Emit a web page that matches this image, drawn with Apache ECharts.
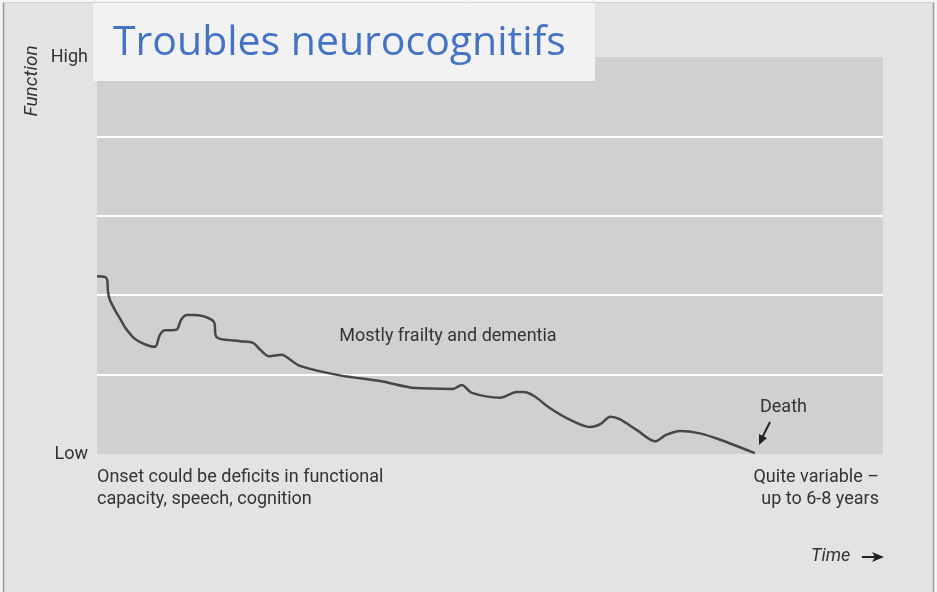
<!DOCTYPE html>
<html><head><meta charset="utf-8">
<script src="https://cdn.jsdelivr.net/npm/echarts@6/dist/echarts.min.js"></script>
<style>html,body{margin:0;padding:0;background:#f4f4f4;}#c{width:937px;height:592px;}</style>
</head><body><div id="c"></div>
<script>
// Time (0..100 of x span) and function level (0 = Low, 5 = High)
const timePts = [0, 1.0, 1.3, 1.4, 1.65, 2.3, 2.9, 3.6, 4.6, 5.5, 6.7, 7.4, 8.0, 8.65, 9.5, 10.2, 10.7, 11.45, 12.5, 13.7, 14.9, 15.1, 15.65, 18.2, 19.85, 20.7, 21.9, 23.5, 24.55, 25.8, 30.9, 36.0, 40.5, 45.3, 46.4, 47.7, 51.3, 53.4, 54.3, 55.6, 57.6, 60.2, 62.7, 64.1, 65.3, 66.5, 68.7, 71.0, 72.4, 74.2, 76.7, 79.3, 83.7];
const functionPts = [2.24, 2.23, 2.19, 2.04, 1.94, 1.81, 1.71, 1.59, 1.47, 1.41, 1.36, 1.35, 1.50, 1.56, 1.56, 1.57, 1.69, 1.75, 1.75, 1.73, 1.66, 1.49, 1.45, 1.42, 1.40, 1.32, 1.23, 1.25, 1.19, 1.11, 0.99, 0.92, 0.83, 0.82, 0.87, 0.77, 0.71, 0.78, 0.78, 0.73, 0.58, 0.43, 0.34, 0.38, 0.47, 0.44, 0.30, 0.16, 0.24, 0.29, 0.26, 0.18, 0.01];
const yTickLabels = {0: 'Low', 5: 'High'};
const titleText = 'Troubles neurocognitifs';
const regionLabel = 'Mostly frailty and dementia';
const onsetLines = ['Onset could be deficits in functional', 'capacity, speech, cognition'];
const endLines = ['Quite variable –', 'up to 6-8 years'];
const deathLabel = 'Death';
const xName = 'Time';
const yName = 'Function';

const FONT = "Roboto, 'Liberation Sans', Arial, sans-serif";
const TXT = '#333';

const chart = echarts.init(document.getElementById('c'));
chart.setOption({
  backgroundColor: '#e3e3e3',
  animation: false,
  grid: {left: 97, right: 54, top: 57, bottom: 138, show: true, backgroundColor: '#d0d0d0', borderWidth: 0},
  xAxis: {type: 'value', min: 0, max: 100, show: false},
  yAxis: {
    type: 'value', min: 0, max: 5, interval: 1,
    axisLine: {show: false}, axisTick: {show: false},
    axisLabel: {formatter: v => yTickLabels[v] || '', color: TXT, fontSize: 18, fontFamily: FONT, margin: 9},
    splitLine: {show: true, lineStyle: {color: ['rgba(0,0,0,0)', '#ffffff', '#ffffff', '#ffffff', '#ffffff', 'rgba(0,0,0,0)'], width: 2}}
  },
  series: [{
    type: 'line',
    data: timePts.map((t, i) => [t, functionPts[i]]),
    showSymbol: false,
    smooth: 0.3,
    lineStyle: {color: '#474747', width: 2.5},
    z: 5
  }],
  graphic: [
    {type: 'rect', shape: {x: 0, y: 0, width: 3, height: 592}, style: {fill: '#f4f4f4'}, z: 50, silent: true},
    {type: 'rect', shape: {x: 0, y: 0, width: 937, height: 2}, style: {fill: '#f4f4f4'}, z: 50, silent: true},
    {type: 'rect', shape: {x: 934, y: 0, width: 3, height: 592}, style: {fill: '#f4f4f4'}, z: 50, silent: true},
    {type: 'line', shape: {x1: 3.5, y1: 2, x2: 3.5, y2: 592}, style: {stroke: '#9a9a9a', lineWidth: 1.5}, z: 51, silent: true},
    {type: 'line', shape: {x1: 933.5, y1: 2, x2: 933.5, y2: 592}, style: {stroke: '#9a9a9a', lineWidth: 1.5}, z: 51, silent: true},
    {type: 'line', shape: {x1: 3, y1: 2.5, x2: 934, y2: 2.5}, style: {stroke: '#d2d2d2', lineWidth: 1}, z: 51, silent: true},
    {type: 'rect', shape: {x: 93, y: 3, width: 502, height: 78}, style: {fill: '#f2f2f2'}, z: 60, silent: true},
    {type: 'text', x: 113, y: 43, z: 61, silent: true, style: {text: titleText, fill: '#4472c4', font: "41px 'Open Sans', 'Noto Sans', sans-serif", textVerticalAlign: 'middle'}},
    {type: 'text', x: 32, y: 81, rotation: Math.PI / 2, z: 61, silent: true, style: {text: yName, fill: TXT, font: 'italic 19px ' + FONT, textAlign: 'center', textVerticalAlign: 'middle'}},
    {type: 'text', x: 448, y: 336, z: 61, silent: true, style: {text: regionLabel, fill: TXT, font: '18px ' + FONT, textAlign: 'center', textVerticalAlign: 'middle'}},
    {type: 'text', x: 97, y: 477, z: 61, silent: true, style: {text: onsetLines[0], fill: TXT, font: '18px ' + FONT, textVerticalAlign: 'middle'}},
    {type: 'text', x: 97, y: 499, z: 61, silent: true, style: {text: onsetLines[1], fill: TXT, font: '18px ' + FONT, textVerticalAlign: 'middle'}},
    {type: 'text', x: 879, y: 477, z: 61, silent: true, style: {text: endLines[0], fill: TXT, font: '18px ' + FONT, textAlign: 'right', textVerticalAlign: 'middle'}},
    {type: 'text', x: 879, y: 499, z: 61, silent: true, style: {text: endLines[1], fill: TXT, font: '18px ' + FONT, textAlign: 'right', textVerticalAlign: 'middle'}},
    {type: 'text', x: 760, y: 407, z: 61, silent: true, style: {text: deathLabel, fill: TXT, font: '18px ' + FONT, textVerticalAlign: 'middle'}},
    {type: 'line', shape: {x1: 770, y1: 422, x2: 762, y2: 438}, style: {stroke: '#222', lineWidth: 2}, z: 61, silent: true},
    {type: 'polygon', shape: {points: [[759, 445], [759, 434], [767, 438]]}, style: {fill: '#222'}, z: 61, silent: true},
    {type: 'text', x: 811, y: 556, z: 61, silent: true, style: {text: xName, fill: TXT, font: 'italic 18px ' + FONT, textVerticalAlign: 'middle'}},
    {type: 'line', shape: {x1: 862, y1: 557, x2: 876, y2: 557}, style: {stroke: '#222', lineWidth: 2}, z: 61, silent: true},
    {type: 'polygon', shape: {points: [[884, 557], [872, 552], [875, 557], [872, 562]]}, style: {fill: '#222'}, z: 61, silent: true}
  ]
});
</script></body></html>
